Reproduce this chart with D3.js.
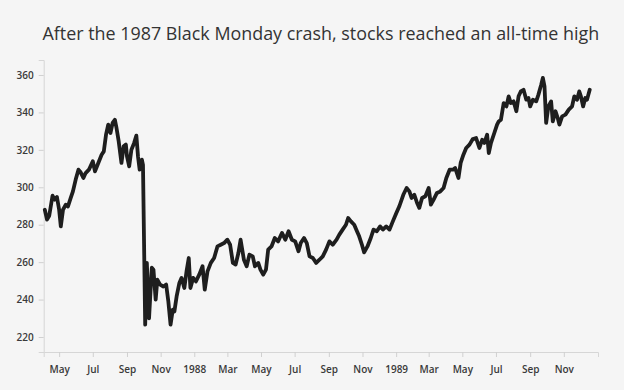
<!DOCTYPE html>
<html>
<head>
<meta charset="utf-8">
<script src="https://cdn.jsdelivr.net/npm/d3@7"></script>
<style>
    html, body { margin: 0; padding: 0; background: #f5f5f5; }
    #chart { display: block; }
    .tick text { font-family: "Open Sans", sans-serif; font-size: 10px; font-weight: 600; fill: #3a3a3a; }
</style>
</head>
<body>
<svg id="chart"></svg>
<script>
// ============================================================
// DATI (letti a occhio dal grafico, S&P 500 1987-1989)
// ============================================================
const dates1987 = [
    "1987-04-05", "1987-04-09", "1987-04-13", "1987-04-19", "1987-04-23", "1987-04-27",
    "1987-05-01", "1987-05-04", "1987-05-08", "1987-05-13", "1987-05-17", "1987-05-22", "1987-05-26", "1987-05-31",
    "1987-06-05", "1987-06-09", "1987-06-14", "1987-06-18", "1987-06-24",
    "1987-07-01", "1987-07-05", "1987-07-11", "1987-07-17", "1987-07-21", "1987-07-25", "1987-07-29",
    "1987-08-02", "1987-08-06", "1987-08-10", "1987-08-13", "1987-08-17", "1987-08-22", "1987-08-26", "1987-08-30",
    "1987-09-01", "1987-09-05", "1987-09-09", "1987-09-14", "1987-09-18", "1987-09-21", "1987-09-24", "1987-09-28", "1987-09-30",
    "1987-10-04", "1987-10-07", "1987-10-11", "1987-10-16", "1987-10-19", "1987-10-23", "1987-10-26", "1987-10-31",
    "1987-11-06", "1987-11-11", "1987-11-15", "1987-11-19", "1987-11-23", "1987-11-26", "1987-11-30",
    "1987-12-05", "1987-12-09", "1987-12-14", "1987-12-18", "1987-12-22", "1987-12-25", "1987-12-30"
];
const close1987 = [
    288.0, 282.7, 284.8, 295.5, 293.4, 294.8,
    288.0, 279.1, 288.0, 290.7, 289.8, 294.3, 297.8, 304.1,
    309.4, 308.0, 305.0, 307.6, 309.4,
    313.9, 308.5, 313.0, 317.4, 319.2, 328.1, 333.5,
    329.0, 334.4, 336.1, 331.7, 324.5, 313.0, 321.9, 322.8,
    316.5, 311.2, 320.1, 323.7, 327.6, 316.5, 309.4, 314.8, 312.0,
    226.6, 259.6, 230.0, 257.0, 256.0, 240.0, 250.6, 248.0,
    247.0, 248.0, 239.0, 226.6, 234.6, 233.7, 241.7,
    248.9, 251.6, 246.2, 255.1, 262.2, 246.2, 251.6
];

const dates1988 = [
    "1988-01-04", "1988-01-10", "1988-01-16", "1988-01-20", "1988-01-25", "1988-01-31",
    "1988-02-06", "1988-02-12", "1988-02-18", "1988-02-24",
    "1988-03-01", "1988-03-06", "1988-03-11", "1988-03-16", "1988-03-21", "1988-03-25", "1988-03-31",
    "1988-04-05", "1988-04-10", "1988-04-16", "1988-04-20", "1988-04-26", "1988-04-30",
    "1988-05-05", "1988-05-10", "1988-05-14", "1988-05-20", "1988-05-26",
    "1988-06-01", "1988-06-08", "1988-06-14", "1988-06-20", "1988-06-26",
    "1988-07-02", "1988-07-08", "1988-07-12", "1988-07-18", "1988-07-23", "1988-07-28",
    "1988-08-03", "1988-08-09", "1988-08-15", "1988-08-21", "1988-08-27",
    "1988-09-02", "1988-09-08", "1988-09-15", "1988-09-20", "1988-09-26",
    "1988-10-02", "1988-10-06", "1988-10-11", "1988-10-17", "1988-10-22", "1988-10-26", "1988-10-31",
    "1988-11-04", "1988-11-10", "1988-11-16", "1988-11-21", "1988-11-27",
    "1988-12-03", "1988-12-08", "1988-12-14", "1988-12-20", "1988-12-26"
];
const close1988 = [
    249.7, 253.3, 257.8, 245.3, 255.1, 259.6,
    262.2, 268.4, 269.3, 270.2,
    272.0, 269.3, 259.6, 258.7, 264.9, 272.0, 261.3,
    257.8, 264.0, 263.1, 257.8, 259.6, 256.0,
    253.3, 256.0, 266.7, 268.4, 272.9,
    271.1, 275.6, 272.0, 276.5, 272.0,
    271.1, 265.8, 270.2, 272.9, 270.2, 263.1,
    262.2, 259.6, 261.3, 263.1, 266.7,
    271.1, 269.3, 272.0, 274.7, 277.4,
    280.0, 283.6, 281.8, 280.0, 276.5, 273.8, 269.3,
    265.2, 268.4, 272.9, 277.4, 276.5,
    279.1, 277.4, 279.1, 277.4, 281.8
];

const dates1989 = [
    "1989-01-01", "1989-01-07", "1989-01-14", "1989-01-20", "1989-01-25", "1989-01-29",
    "1989-02-03", "1989-02-08", "1989-02-12", "1989-02-17", "1989-02-23",
    "1989-03-01", "1989-03-05", "1989-03-10", "1989-03-16", "1989-03-22", "1989-03-28",
    "1989-04-02", "1989-04-08", "1989-04-14", "1989-04-18", "1989-04-24", "1989-04-28",
    "1989-05-03", "1989-05-08", "1989-05-14", "1989-05-20", "1989-05-26",
    "1989-06-01", "1989-06-06", "1989-06-10", "1989-06-15", "1989-06-18", "1989-06-22", "1989-06-28",
    "1989-07-03", "1989-07-06", "1989-07-10", "1989-07-15", "1989-07-20", "1989-07-24", "1989-07-28",
    "1989-08-02", "1989-08-07", "1989-08-11", "1989-08-15", "1989-08-20", "1989-08-25", "1989-08-29",
    "1989-09-01", "1989-09-06", "1989-09-12", "1989-09-16", "1989-09-21", "1989-09-24", "1989-09-27", "1989-09-30",
    "1989-10-04", "1989-10-09", "1989-10-12", "1989-10-17", "1989-10-21", "1989-10-24", "1989-10-29",
    "1989-11-04", "1989-11-10", "1989-11-16", "1989-11-20", "1989-11-25", "1989-11-29",
    "1989-12-02", "1989-12-06", "1989-12-10", "1989-12-13", "1989-12-18"
];
const close1989 = [
    286.0, 290.0, 296.0, 299.6, 297.8, 294.3,
    296.0, 291.6, 289.0, 294.3, 295.2,
    299.6, 290.7, 293.4, 297.0, 297.8, 299.6,
    305.0, 309.4, 309.4, 310.3, 305.0, 313.0,
    317.4, 321.0, 322.8, 325.8, 326.3,
    321.0, 325.4, 323.7, 328.1, 318.3, 323.7, 329.0,
    333.5, 335.2, 336.1, 345.0, 343.2, 348.6, 345.0,
    345.9, 340.6, 348.6, 351.2, 352.1, 346.8, 347.7,
    343.2, 346.8, 345.9, 349.5, 354.8, 358.4, 353.9, 334.4,
    343.2, 345.9, 335.2, 340.6, 337.0, 333.5, 337.9,
    338.8, 341.5, 343.2, 348.6, 346.8, 351.2,
    348.6, 343.2, 347.7, 346.8, 352.1
];

const xDomain = ["1987-04-03", "1990-01-02"];
const xTickRange = ["1987-05-01", "1989-11-01"];
const yDomain = [212, 368];
const yTicks = [220, 240, 260, 280, 300, 320, 340, 360];
const title = "After the 1987 Black Monday crash, stocks reached an all-time high";

// ============================================================
// SETUP SVG / MISURE
// ============================================================
const width = 624;
const height = 390;
const margin = { top: 60, right: 26, bottom: 38, left: 43.7 };

const parse = d3.timeParse("%Y-%m-%d");
const data = []
    .concat(dates1987.map((d, i) => ({ date: parse(d), close: close1987[i] })))
    .concat(dates1988.map((d, i) => ({ date: parse(d), close: close1988[i] })))
    .concat(dates1989.map((d, i) => ({ date: parse(d), close: close1989[i] })));

const svg = d3.select("#chart")
    .attr("width", width)
    .attr("height", height);

svg.append("rect")
    .attr("width", width)
    .attr("height", height)
    .attr("fill", "#f5f5f5");

const x = d3.scaleTime()
    .domain(xDomain.map(parse))
    .range([margin.left, width - margin.right]);

const y = d3.scaleLinear()
    .domain(yDomain)
    .range([height - margin.bottom, margin.top]);

// ------------------------------------------------------------
// TITOLO
// ------------------------------------------------------------
svg.append("text")
    .attr("x", (margin.left + width - margin.right) / 2)
    .attr("y", 40)
    .attr("text-anchor", "middle")
    .attr("font-family", "'Open Sans', sans-serif")
    .attr("font-size", "17.9px")
    .attr("fill", "#333")
    .text(title);

// ------------------------------------------------------------
// ASSI
// ------------------------------------------------------------
const fmtMonth = d3.timeFormat("%b");
const fmtYear = d3.timeFormat("%Y");

// ogni due mesi, da May 1987 a Nov 1989 (niente tick "1990")
const [tickStart, tickEnd] = xTickRange.map(parse);
const xTickValues = d3.timeMonth.every(2).range(tickStart, d3.timeDay.offset(tickEnd, 1));

const xAxis = svg.append("g")
    .attr("transform", `translate(0,${height - margin.bottom})`)
    .call(d3.axisBottom(x)
        .tickValues(xTickValues)
        .tickSize(5)
        .tickPadding(9)
        .tickFormat((d) => (d.getMonth() === 0 ? fmtYear(d) : fmtMonth(d))));

const yAxis = svg.append("g")
    .attr("transform", `translate(${margin.left},0)`)
    .call(d3.axisLeft(y)
        .tickValues(yTicks)
        .tickSize(5)
        .tickPadding(5));

[xAxis, yAxis].forEach((g) => {
    g.select(".domain").attr("stroke", "#d6d6d6");
    g.selectAll(".tick line").attr("stroke", "#d0d0d0");
});

// ------------------------------------------------------------
// LINEA
// ------------------------------------------------------------
const line = d3.line()
    .x((d) => x(d.date))
    .y((d) => y(d.close));

svg.append("path")
    .datum(data)
    .attr("fill", "none")
    .attr("stroke", "#1e1e1e")
    .attr("stroke-width", 3.8)
    .attr("stroke-linejoin", "round")
    .attr("stroke-linecap", "round")
    .attr("d", line);
</script>
</body>
</html>
